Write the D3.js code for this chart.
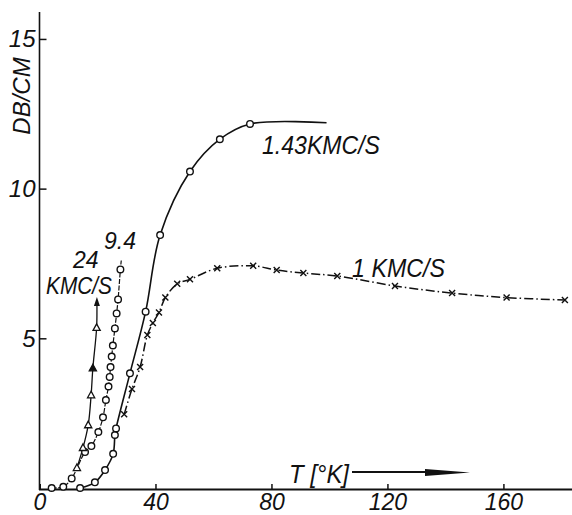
<!DOCTYPE html>
<html><head><meta charset="utf-8">
<script src="https://cdn.jsdelivr.net/npm/d3@7"></script>
<style>
html,body{margin:0;padding:0;background:#fff;}
svg text{font-family:"Liberation Sans",Arial,sans-serif;font-style:italic;fill:#111;}
</style></head>
<body><svg id="c" width="572" height="515"></svg>
<script>
// ---- data (T in K, attenuation in dB/cm) ----
const xTicks = [0, 40, 80, 120, 160];
const yTicks = [5, 10, 15];

// 24 KMC/S (triangles)
const t24 = [12.9, 15.0, 16.8, 17.8, 18.4, 19.7];
const v24 = [0.67, 1.34, 2.10, 3.10, 4.00, 5.35];
const filled24 = [false, false, false, false, true, false];
const arrow24 = [19.8, 6.25];

// 9.4 KMC/S (circles)
const t94 = [4.2, 8.2, 11.1, 15.7, 17.9, 20.3, 21.9, 22.9, 23.8, 24.2, 24.5, 24.9, 25.3, 26.0, 26.6, 27.1, 27.9];
const v94 = [0.0, 0.04, 0.32, 1.20, 1.40, 1.87, 2.36, 2.94, 3.39, 3.71, 4.04, 4.39, 4.76, 5.33, 5.83, 6.30, 7.30];
const tail94 = [28.2, 7.6];

// 1.43 KMC/S (circles, solid line)
const t143 = [14.0, 19.1, 22.6, 25.4, 26.0, 26.4, 31.2, 36.6, 41.6, 51.9, 62.2, 72.6];
const v143 = [0.0, 0.19, 0.60, 1.14, 1.77, 1.99, 3.83, 5.89, 8.45, 10.57, 11.65, 12.16];
const end143 = [99.0, 12.2];

// 1 KMC/S (crosses)
const t1 = [29.2, 31.9, 34.7, 37.2, 39.1, 41.2, 43.4, 47.5, 51.9, 61.3, 73.7, 81.8, 91.0, 102.7, 122.6, 142.3, 161.1, 181.2];
const v1 = [2.46, 3.31, 4.04, 5.11, 5.51, 5.86, 6.36, 6.82, 6.97, 7.34, 7.42, 7.28, 7.18, 7.08, 6.75, 6.51, 6.36, 6.28];

// ---- scales ----
const svg = d3.select("#c");
svg.append("rect").attr("width",572).attr("height",515).attr("fill","#fff");
const x = d3.scaleLinear().domain([0, 184]).range([39.5, 573]);
const y = d3.scaleLinear().domain([0, 15.9]).range([488, 12]);

// ---- axes ----
const xAxis = d3.axisBottom(x).tickValues(xTicks).tickSize(-5).tickPadding(5).tickFormat(d3.format("d"));
const gx = svg.append("g").attr("transform","translate(0,489)").call(xAxis);
gx.select(".domain").attr("stroke","#111").attr("stroke-width",2);
gx.selectAll(".tick line").attr("stroke","#111").attr("stroke-width",1.5);
gx.selectAll(".tick").filter(d=>d===0).select("line").remove();
gx.selectAll("text").attr("font-size",23).attr("fill","#111").attr("font-family",null);

const yAxis = d3.axisLeft(y).tickValues(yTicks).tickSize(-7).tickPadding(4);
const gy = svg.append("g").attr("transform","translate(39.5,0)").call(yAxis);
gy.select(".domain").attr("stroke","#111").attr("stroke-width",1.6).attr("d","M0,490V12");
gy.selectAll(".tick line").attr("stroke","#111").attr("stroke-width",1.5);
gy.selectAll("text").attr("font-size",24).attr("fill","#111").attr("font-family",null);

// ---- lines ----
const line = d3.line().x(d=>x(d[0])).y(d=>y(d[1])).curve(d3.curveCatmullRom.alpha(0.5));
const zip = (a,b)=>a.map((t,i)=>[t,b[i]]);

const p143 = zip(t143,v143).concat([end143]);
svg.append("path").attr("d",line(p143)).attr("fill","none").attr("stroke","#111").attr("stroke-width",1.6);

const p1 = zip(t1,v1);
svg.append("path").attr("d",line(p1)).attr("fill","none").attr("stroke","#111").attr("stroke-width",1.5)
  .attr("stroke-dasharray","9,3,1.5,3");

const p94 = zip(t94,v94).concat([tail94]);
svg.append("path").attr("d",line(p94)).attr("fill","none").attr("stroke","#111").attr("stroke-width",1.2)
  .attr("stroke-dasharray","5,1.5");

const p24 = zip(t24,v24).concat([arrow24]);
svg.append("path").attr("d",line(p24)).attr("fill","none").attr("stroke","#111").attr("stroke-width",1.3);
// arrow head on 24
const ax = x(arrow24[0]), ay = y(arrow24[1]);
svg.append("path").attr("d",`M${ax},${ay-4}L${ax-3},${ay+5}L${ax+3},${ay+5}Z`).attr("fill","#111");

// ---- markers ----
function circles(data){
  svg.append("g").selectAll("circle").data(data).join("circle")
    .attr("cx",d=>x(d[0])).attr("cy",d=>y(d[1])).attr("r",3.3)
    .attr("fill","#fff").attr("stroke","#111").attr("stroke-width",1.4);
}
circles(zip(t94,v94));
circles(zip(t143,v143));
svg.append("g").selectAll("path").data(p1).join("path")
  .attr("d",d=>{const cx=x(d[0]),cy=y(d[1]);return `M${cx-3},${cy-3}L${cx+3},${cy+3}M${cx-3},${cy+3}L${cx+3},${cy-3}`;})
  .attr("stroke","#111").attr("stroke-width",1.4);
svg.append("g").selectAll("path").data(zip(t24,v24)).join("path")
  .attr("d",d=>{const cx=x(d[0]),cy=y(d[1]);return `M${cx},${cy-4}L${cx-3.6},${cy+2.6}L${cx+3.6},${cy+2.6}Z`;})
  .attr("fill",(d,i)=>filled24[i]?"#111":"#fff").attr("stroke","#111").attr("stroke-width",1.3);

// ---- labels ----
svg.append("text").attr("transform","translate(30,96) rotate(-90)").attr("text-anchor","middle")
  .attr("font-size",24).text("DB/CM");
svg.append("text").attr("x",104).attr("y",249).attr("font-size",23).text("9.4");
svg.append("text").attr("x",73).attr("y",268).attr("font-size",23).text("24");
svg.append("text").attr("x",46).attr("y",294).attr("font-size",23).attr("textLength",66).attr("lengthAdjust","spacingAndGlyphs").text("KMC/S");
svg.append("text").attr("x",262).attr("y",154).attr("font-size",25).attr("textLength",118).attr("lengthAdjust","spacingAndGlyphs").text("1.43KMC/S");
svg.append("text").attr("x",352).attr("y",277).attr("font-size",25).attr("textLength",93).attr("lengthAdjust","spacingAndGlyphs").text("1 KMC/S");
svg.append("text").attr("x",289).attr("y",483).attr("font-size",25).attr("textLength",60).attr("lengthAdjust","spacingAndGlyphs").text("T [°K]");
// arrow after T label
svg.append("line").attr("x1",352).attr("y1",472).attr("x2",440).attr("y2",472).attr("stroke","#111").attr("stroke-width",2);
svg.append("path").attr("d","M425,469L470,472.5L425,476Z").attr("fill","#111");
</script></body></html>
